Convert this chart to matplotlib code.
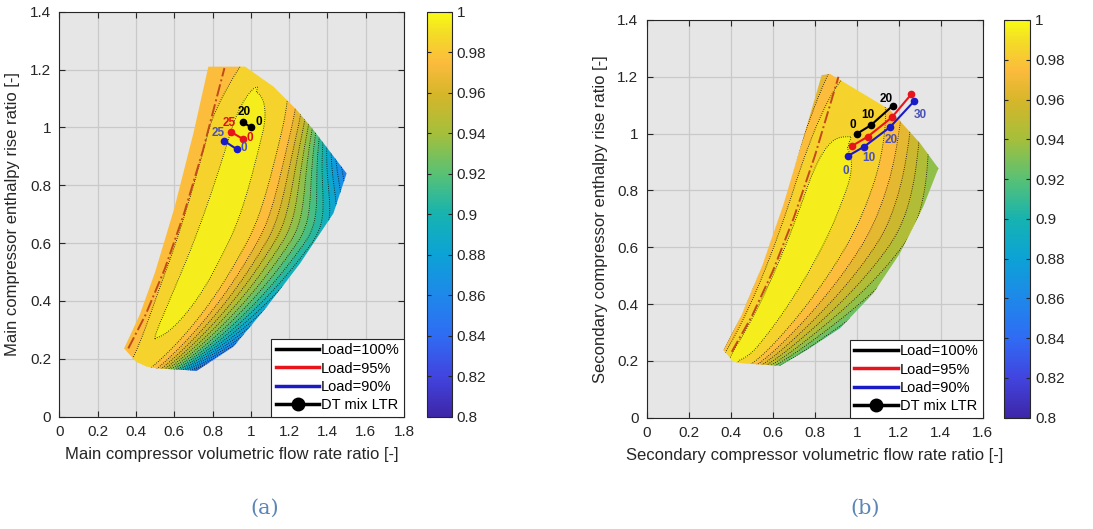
import numpy as np
import matplotlib
matplotlib.use('Agg')
import matplotlib.pyplot as plt
from matplotlib.colors import LinearSegmentedColormap, Normalize
from matplotlib.cm import ScalarMappable
from matplotlib.patches import Polygon
from matplotlib.lines import Line2D

plt.rcParams['font.family'] = ['Liberation Sans', 'DejaVu Sans']

# ---- panel (a): main compressor ----
a_edge_v = [0.338, 0.40, 0.456, 0.508, 0.717, 0.909, 1.083, 1.257, 1.431, 1.50,
            1.327, 1.24, 1.118, 0.97, 0.778, 0.70, 0.60, 0.50, 0.42]
a_edge_h = [0.236, 0.19, 0.173, 0.167, 0.159, 0.242, 0.380, 0.530, 0.703, 0.841,
            0.991, 1.06, 1.141, 1.21, 1.21, 0.98, 0.72, 0.50, 0.353]
a_surge_v = [0.36, 0.45, 0.55, 0.65, 0.75, 0.862]
a_surge_h = [0.236, 0.352, 0.510, 0.700, 0.921, 1.205]
a_v100, a_h100 = [0.961, 0.999], [1.017, 1.001]
a_v95, a_h95 = [0.897, 0.961], [0.984, 0.959]
a_v90, a_h90 = [0.858, 0.926], [0.954, 0.925]
a_lab_txt = ['20', '0', '25', '0', '25', '0']
a_lab_v = [0.966, 1.041, 0.888, 0.996, 0.830, 0.964]
a_lab_h = [1.054, 1.017, 1.014, 0.964, 0.982, 0.928]
a_lab_col = ['k', 'k', 'r', 'r', 'b', 'b']
# efficiency-map fit parameters, tuned to the contour bands of the picture
a_model = dict(eta_pk=0.993, phi_c=0.97, q_r=0.03, s_r=0.16, d_k=0.25, w=0.06,
               k_l=0.017, w_l=0.155, p_l=2.0, a_hi=38.0, a_lo=2.1,
               kn_hi=0.5, n_hi=0.99, kn_lo=0.09, n_lo=0.70)

# ---- panel (b): secondary compressor ----
b_edge_v = [0.365, 0.413, 0.460, 0.587, 0.635, 0.762, 0.921, 1.079, 1.206, 1.317,
            1.389, 1.302, 1.159, 1.0, 0.873, 0.833, 0.75, 0.65, 0.55, 0.45]
b_edge_h = [0.238, 0.197, 0.191, 0.185, 0.183, 0.238, 0.315, 0.438, 0.579, 0.743,
            0.878, 0.966, 1.083, 1.154, 1.21, 1.206, 0.996, 0.748, 0.535, 0.358]
b_surge_v = [0.405, 0.5, 0.6, 0.7, 0.8, 0.913]
b_surge_h = [0.232, 0.356, 0.515, 0.703, 0.920, 1.200]
b_v100, b_h100 = [1.0, 1.068, 1.171], [0.999, 1.030, 1.098]
b_v95, b_h95 = [0.976, 1.052, 1.167, 1.259], [0.956, 0.989, 1.057, 1.138]
b_v90, b_h90 = [0.960, 1.035, 1.159, 1.273], [0.922, 0.954, 1.023, 1.114]
b_lab_txt = ['0', '10', '20', '0', '10', '20', '30']
b_lab_v = [0.981, 1.051, 1.140, 0.948, 1.060, 1.162, 1.305]
b_lab_h = [1.029, 1.064, 1.123, 0.870, 0.914, 0.977, 1.066]
b_lab_col = ['k', 'k', 'k', 'b', 'b', 'b', 'b']
b_model = dict(eta_pk=0.9925, phi_c=0.98, q_r=0.0, s_r=0.12, d_k=0.15, w=0.06,
               k_l=0.07, w_l=0.30, p_l=4.0, a_hi=17.9, a_lo=5.4,
               kn_hi=0.28, n_hi=0.90, kn_lo=0.63, n_lo=0.50)

# parula-like colormap
cb_pos = [0.0, 0.1, 0.2, 0.3, 0.4, 0.5, 0.6, 0.7, 0.8, 0.875, 0.95, 1.0]
cb_cols = ['#3e26a8', '#4145e0', '#2f6cf4', '#1e88ea', '#0ca2d6', '#16b3b0',
           '#58c175', '#a4bf3b', '#d7b62a', '#fcbb3d', '#f3dd25', '#f9fb15']
parula = LinearSegmentedColormap.from_list('parula', list(zip(cb_pos, cb_cols)))
cb_ticks = [0.8, 0.82, 0.84, 0.86, 0.88, 0.9, 0.92, 0.94, 0.96, 0.98, 1.0]

TXT = '#262626'
LINE_COL = {'k': 'black', 'r': '#e8141c', 'b': '#1a1ac8'}
LAB_COL = {'k': 'black', 'r': '#e01010', 'b': '#4a52b8'}


def efficiency(V, h, p):
    n = np.sqrt(h)
    d = V / n - p['phi_c']
    up = np.clip(n - 0.775, 0, None)
    lo = np.clip(0.775 - n, 0, None)
    f = 1 + p['a_hi'] * up ** 2 + p['a_lo'] * lo ** 2
    dr = np.clip(d, 0, None)
    right = (p['q_r'] * dr ** 2
             + p['s_r'] * p['w'] * np.logaddexp(0, (d - p['d_k']) / p['w'])) * f
    left = p['k_l'] * (1 - np.exp(-(np.abs(d) / p['w_l']) ** p['p_l']))
    pen = np.where(d < 0, left, right)
    pen = pen + p['kn_hi'] * np.clip(n - p['n_hi'], 0, None) ** 2
    pen = pen + p['kn_lo'] * np.clip(p['n_lo'] - n, 0, None) ** 2
    return p['eta_pk'] - pen


def draw_panel(ax, cax, edge_v, edge_h, surge_v, surge_h, series, labels, model,
               xmax, xlabel, ylabel):
    norm = Normalize(0.8, 1.0)
    ax.set_facecolor('#e6e6e6')
    vv, hh = np.meshgrid(np.linspace(0.2, 1.7, 600), np.linspace(0.1, 1.3, 600))
    eta = efficiency(vv, hh, model)
    levels = np.arange(0.80, 1.0001, 0.01)
    clip = Polygon(np.column_stack([edge_v, edge_h]), closed=True,
                   facecolor='none', edgecolor='none')
    ax.add_patch(clip)
    cf = ax.contourf(vv, hh, eta, levels=levels, cmap=parula, norm=norm, zorder=2)
    cl = ax.contour(vv, hh, eta, levels=levels, colors='k', linewidths=0.6,
                    linestyles=':', zorder=3)
    cf.set_clip_path(clip)
    cl.set_clip_path(clip)
    ax.plot(surge_v, surge_h, color='#c24a1a', lw=1.4, ls='-.', zorder=4)

    for (v, h, c) in series:
        ax.plot(v, h, color=LINE_COL[c], lw=1.5, marker='o', ms=4.5, zorder=5)
    for t, v, h, c in zip(*labels):
        ax.text(v, h, t, color=LAB_COL[c], fontsize=8.5, fontweight='bold',
                ha='center', va='center', zorder=6)

    ax.set_xlim(0, xmax)
    ax.set_ylim(0, 1.4)
    ax.set_xticks(np.arange(0, xmax + 0.01, 0.2))
    ax.set_yticks(np.arange(0, 1.41, 0.2))
    ax.xaxis.set_major_formatter(lambda x, pos: f'{x:g}')
    ax.yaxis.set_major_formatter(lambda x, pos: f'{x:g}')
    ax.grid(True, color='#c9c9c9', lw=0.9, zorder=1)
    ax.set_axisbelow(True)
    ax.tick_params(direction='in', length=4, top=True, right=True, labelsize=11,
                   colors=TXT, pad=6)
    for s in ax.spines.values():
        s.set_color(TXT)
        s.set_linewidth(0.8)
    ax.set_xlabel(xlabel, fontsize=12, color=TXT, labelpad=6)
    ax.set_ylabel(ylabel, fontsize=12, color=TXT, labelpad=7)

    handles = [Line2D([], [], color='black', lw=2.5),
               Line2D([], [], color='#e8141c', lw=2.5),
               Line2D([], [], color='#1a1ac8', lw=2.5),
               Line2D([], [], color='black', lw=2.5, marker='o', ms=9)]
    leg = ax.legend(handles, ['Load=100%', 'Load=95%', 'Load=90%', 'DT mix LTR'],
                    loc='lower right', fontsize=10.5, handlelength=3.0,
                    handletextpad=0.1, borderpad=0.3, labelspacing=0.3,
                    fancybox=False, framealpha=1, borderaxespad=0)
    leg.get_frame().set_edgecolor(TXT)
    leg.get_frame().set_linewidth(0.8)
    leg.set_zorder(10)

    cb = plt.colorbar(ScalarMappable(norm=norm, cmap=parula), cax=cax)
    cb.set_ticks(cb_ticks, labels=[f'{t:g}' for t in cb_ticks])
    cb.ax.tick_params(direction='in', length=3, left=True, right=True,
                      labelsize=11, colors=TXT)
    cb.outline.set_edgecolor(TXT)
    cb.outline.set_linewidth(0.8)


fig = plt.figure(figsize=(10.93, 5.29), dpi=100)
ax1 = fig.add_axes([0.0543, 0.2123, 0.3154, 0.7656])
cax1 = fig.add_axes([0.3904, 0.2123, 0.0231, 0.7656])
ax2 = fig.add_axes([0.5917, 0.2104, 0.3074, 0.7518])
cax2 = fig.add_axes([0.9186, 0.2104, 0.0238, 0.7518])

draw_panel(ax1, cax1, a_edge_v, a_edge_h, a_surge_v, a_surge_h,
           [(a_v100, a_h100, 'k'), (a_v95, a_h95, 'r'), (a_v90, a_h90, 'b')],
           (a_lab_txt, a_lab_v, a_lab_h, a_lab_col), a_model, 1.8,
           'Main compressor volumetric flow rate ratio [-]',
           'Main compressor enthalpy rise ratio [-]')
draw_panel(ax2, cax2, b_edge_v, b_edge_h, b_surge_v, b_surge_h,
           [(b_v100, b_h100, 'k'), (b_v95, b_h95, 'r'), (b_v90, b_h90, 'b')],
           (b_lab_txt, b_lab_v, b_lab_h, b_lab_col), b_model, 1.6,
           'Secondary compressor volumetric flow rate ratio [-]',
           'Secondary compressor enthalpy rise ratio [-]')

fig.text(0.2425, 0.04, '(a)', family='DejaVu Serif', fontsize=15, color='#5b86b5',
         ha='center', va='center')
fig.text(0.7915, 0.04, '(b)', family='DejaVu Serif', fontsize=15, color='#5b86b5',
         ha='center', va='center')

fig.savefig('out.png', dpi=100)
